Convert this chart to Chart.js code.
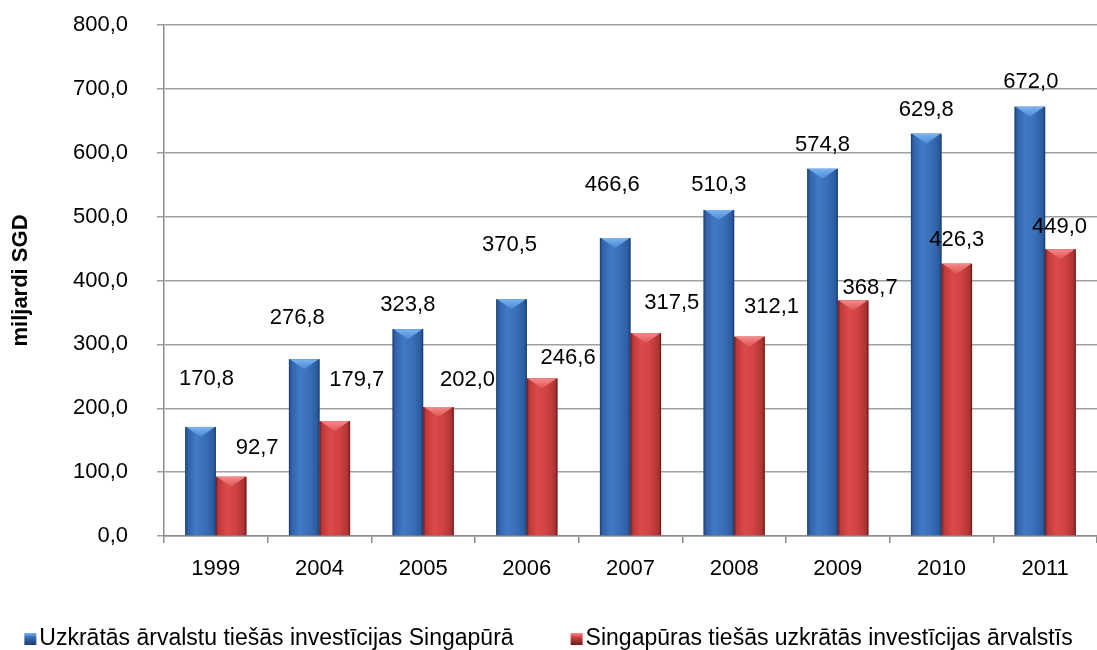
<!DOCTYPE html>
<html>
<head>
<meta charset="utf-8">
<script src="https://cdn.jsdelivr.net/npm/chart.js@4.4.1/dist/chart.umd.min.js"></script>
<style>
  html, body { margin: 0; padding: 0; background: #ffffff; }
  #wrap { width: 1097px; height: 650px; position: relative; }
</style>
</head>
<body>
<div id="wrap"><canvas id="c" width="1097" height="650"></canvas></div>
<script>
// ---- data ----
const categories = ['1999', '2004', '2005', '2006', '2007', '2008', '2009', '2010', '2011'];
const inwardFDI = [170.8, 276.8, 323.8, 370.5, 466.6, 510.3, 574.8, 629.8, 672.0];
const outwardFDI = [92.7, 179.7, 202.0, 246.6, 317.5, 312.1, 368.7, 426.3, 449.0];
const seriesNames = [
  'Uzkrātās ārvalstu tiešās investīcijas Singapūrā',
  'Singapūras tiešās uzkrātās investīcijas ārvalstīs'
];
const axisTitle = 'miljardi SGD';
const yTicks = [0, 100, 200, 300, 400, 500, 600, 700, 800];

// label nudges (pixels from bar top centre), as placed in the original
const nudgeInward = [[6,-48],[-7,-41],[0,-24],[-2,-54],[-3,-53],[0,-25],[0,-24],[0,-24],[1,-25]];
const nudgeOutward = [[26,-29],[22,-41],[29,-27],[26,-21],[26,-30],[22,-30],[17,-13],[0,-24],[-1,-22]];

const FONT = '"Liberation Sans", Arial, sans-serif';
const fmt = v => Number(v).toFixed(1).replace('.', ',');

const palettes = [
  { stops: ['#1c3c6e','#2f62a8','#4279c4','#3a6fb8','#2c5c9f','#1a3a6a'], capA: '#7ab4f2', capB: '#4a88d4', base: '#3a6fb8' },
  { stops: ['#6e1a1a','#be3838','#dc4a4a','#d04242','#ad3434','#6a1818'], capA: '#f58a8a', capB: '#de5454', base: '#d04242' }
];

const barStyle = {
  id: 'barStyle',
  afterDatasetsDraw(chart) {
    const ctx = chart.ctx;
    chart.data.datasets.forEach((ds, di) => {
      const meta = chart.getDatasetMeta(di);
      const pal = palettes[di];
      meta.data.forEach(el => {
        const {x, y, base, width} = el.getProps(['x','y','base','width'], true);
        const l = x - width / 2, r = x + width / 2, h = base - y;
        ctx.save();
        const g = ctx.createLinearGradient(l, 0, r, 0);
        const pos = [0, 0.08, 0.35, 0.65, 0.92, 1];
        pal.stops.forEach((c, i) => g.addColorStop(pos[i], c));
        ctx.fillStyle = g;
        ctx.fillRect(l, y, width, h);
        const cap = Math.min(10, h);
        const cg = ctx.createLinearGradient(0, y, 0, y + cap);
        cg.addColorStop(0, pal.capA);
        cg.addColorStop(1, pal.capB);
        ctx.beginPath();
        ctx.moveTo(l + 1, y);
        ctx.lineTo(r - 1, y);
        ctx.lineTo(x, y + cap);
        ctx.closePath();
        ctx.fillStyle = cg;
        ctx.fill();
        ctx.restore();
      });
    });
  }
};

const valueLabels = {
  id: 'valueLabels',
  afterDatasetsDraw(chart) {
    const ctx = chart.ctx;
    const nudges = [nudgeInward, nudgeOutward];
    ctx.save();
    ctx.font = '22px ' + FONT;
    ctx.fillStyle = '#000';
    ctx.textAlign = 'center';
    ctx.textBaseline = 'middle';
    chart.data.datasets.forEach((ds, di) => {
      const meta = chart.getDatasetMeta(di);
      meta.data.forEach((el, i) => {
        const n = nudges[di][i];
        ctx.fillText(fmt(ds.data[i]), el.x + n[0], el.y + n[1]);
      });
    });
    ctx.restore();
  }
};

const customLegend = {
  id: 'customLegend',
  afterDraw(chart) {
    const ctx = chart.ctx;
    ctx.save();
    ctx.font = '23px ' + FONT;
    ctx.textBaseline = 'middle';
    ctx.textAlign = 'left';
    const box = 12, gap = 3, spacing = 57;
    const widths = chart.data.datasets.map(ds => box + gap + ctx.measureText(ds.label).width);
    const total = widths.reduce((a, b) => a + b, 0) + spacing * (widths.length - 1);
    let x = (chart.width - total) / 2;
    const yc = 639;
    chart.data.datasets.forEach((ds, di) => {
      const pal = palettes[di];
      const g = ctx.createLinearGradient(0, yc - box / 2, 0, yc + box / 2);
      g.addColorStop(0, pal.capA);
      g.addColorStop(0.35, pal.base);
      g.addColorStop(1, pal.stops[0]);
      ctx.fillStyle = g;
      ctx.fillRect(x, yc - box / 2, box, box);
      ctx.fillStyle = '#000';
      ctx.fillText(ds.label, x + box + gap, yc);
      x += widths[di] + spacing;
    });
    ctx.restore();
  }
};

new Chart(document.getElementById('c'), {
  type: 'bar',
  data: {
    labels: categories,
    datasets: [
      { label: seriesNames[0], data: inwardFDI, backgroundColor: palettes[0].base, categoryPercentage: 0.59, barPercentage: 1.0 },
      { label: seriesNames[1], data: outwardFDI, backgroundColor: palettes[1].base, categoryPercentage: 0.59, barPercentage: 1.0 }
    ]
  },
  options: {
    responsive: false,
    animation: false,
    devicePixelRatio: 1,
    layout: { padding: { top: 25, right: 0, bottom: 0, left: 0 } },
    plugins: {
      legend: { display: false },
      tooltip: { enabled: false }
    },
    scales: {
      x: {
        afterFit(s) { s.height = 114; s.paddingLeft = 0; s.paddingRight = 0; },
        grid: { display: true, offset: true, drawOnChartArea: false, drawTicks: true, tickLength: 7, color: '#8c8c8c', lineWidth: 1.5 },
        border: { display: true, color: '#8c8c8c', width: 1.5 },
        ticks: { color: '#000', font: { family: FONT, size: 22 }, padding: 13, maxRotation: 0 }
      },
      y: {
        min: 0, max: 800,
        afterFit(s) { s.width = 164; s.paddingTop = 0; s.paddingBottom = 0; },
        afterBuildTicks(s) { s.ticks = yTicks.map(v => ({ value: v })); },
        grid: { color: '#a0a0a0', lineWidth: 1.5, drawTicks: true, tickLength: 7 },
        border: { display: true, color: '#8c8c8c', width: 1.5 },
        ticks: { color: '#000', font: { family: FONT, size: 22 }, padding: 29, callback: v => fmt(v) },
        title: { display: true, text: axisTitle, color: '#000', font: { family: FONT, size: 22, weight: 'bold' }, padding: { top: 8, bottom: 0 } }
      }
    }
  },
  plugins: [barStyle, valueLabels, customLegend]
});
</script>
</body>
</html>
